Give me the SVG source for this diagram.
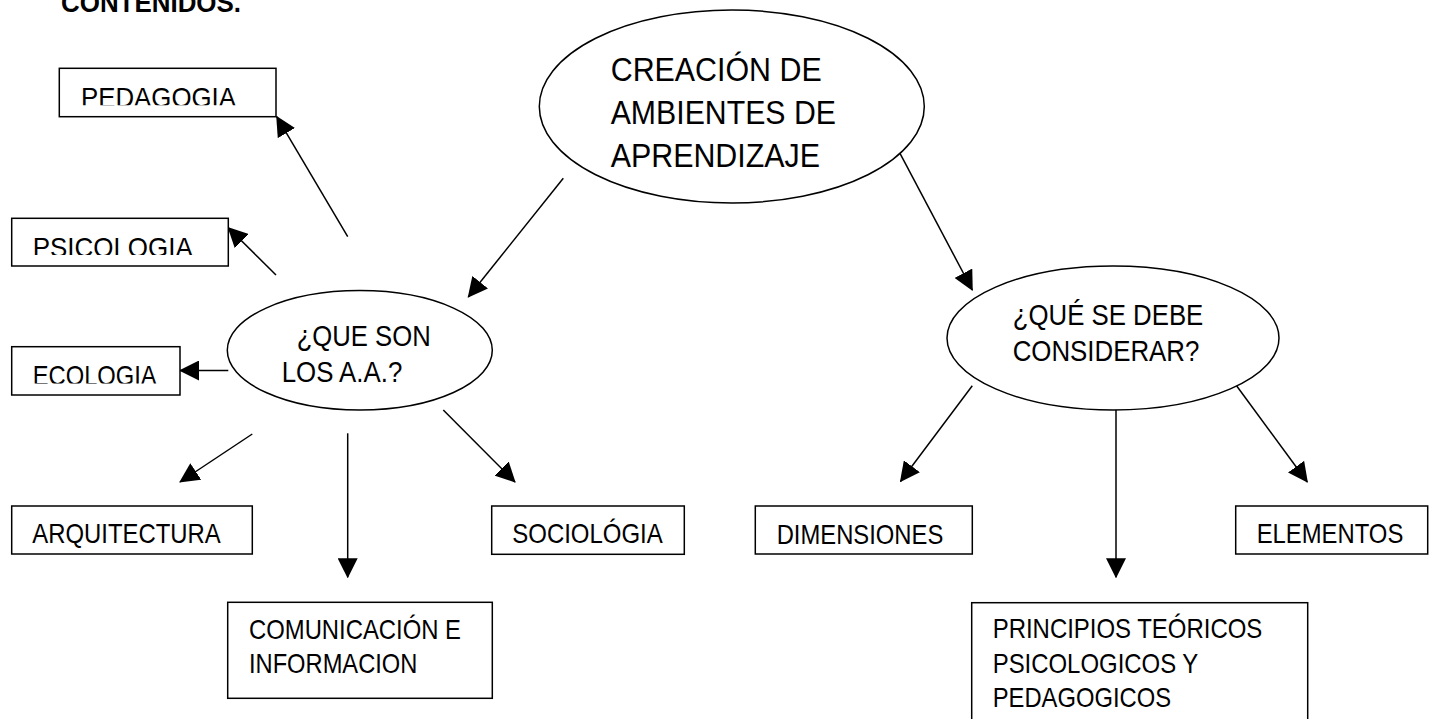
<svg xmlns="http://www.w3.org/2000/svg" width="1430" height="719" viewBox="0 0 1430 719">
<style>
.box{fill:#fff;stroke:#000;stroke-width:1.5}
.ell{fill:#fff;stroke:#000;stroke-width:1.5}
.con{stroke:#000;stroke-width:1.5;fill:none;marker-end:url(#ah)}
text{font-family:"Liberation Sans",Arial,sans-serif;fill:#000}
.t28{font-size:28px}
.t29{font-size:29px}
.t30{font-size:30px}
.t34{font-size:34px}
.title{font-size:28px;font-weight:bold}
</style>
<defs>
<marker id="ah" viewBox="0 0 20 20" refX="19" refY="10" markerWidth="20" markerHeight="20" markerUnits="userSpaceOnUse" orient="auto">
<path d="M0,0 L20,10 L0,20 z" fill="#000"/>
</marker>
<clipPath id="cPed"><rect x="0" y="60" width="300" height="45.3"/></clipPath>
<clipPath id="cPsi"><rect x="0" y="210" width="300" height="45"/></clipPath>
<clipPath id="cEco"><rect x="0" y="340" width="300" height="43.5"/></clipPath>
</defs>
<rect width="1430" height="719" fill="#fff"/>
<text class="title" x="61" y="12" textLength="180" lengthAdjust="spacingAndGlyphs">CONTENIDOS.</text>
<g id="connectors">
<line class="con" x1="563.3" y1="178.3" x2="468.3" y2="297"/>
<line class="con" x1="900" y1="153.3" x2="972.3" y2="290"/>
<line class="con" x1="347.7" y1="236.7" x2="276.7" y2="116.7"/>
<line class="con" x1="276" y1="275" x2="228.3" y2="227.7"/>
<line class="con" x1="228.3" y1="370.5" x2="180" y2="370.5"/>
<line class="con" x1="252.3" y1="434" x2="180" y2="482"/>
<line class="con" x1="347.7" y1="433.3" x2="347.7" y2="577.3"/>
<line class="con" x1="443.3" y1="410" x2="515" y2="482"/>
<line class="con" x1="972.3" y1="385.7" x2="900.5" y2="481.5"/>
<line class="con" x1="1116" y1="410" x2="1116" y2="577.3"/>
<line class="con" x1="1236" y1="385" x2="1307.3" y2="482"/>
</g>
<g id="creacion">
<ellipse class="ell" cx="731.8" cy="106.5" rx="192.5" ry="96.5"/>
<text class="t34" x="610.7" y="81" textLength="211" lengthAdjust="spacingAndGlyphs">CREACIÓN DE</text>
<text class="t34" x="610.7" y="124" textLength="225.3" lengthAdjust="spacingAndGlyphs">AMBIENTES DE</text>
<text class="t34" x="610.7" y="166.7" textLength="209.3" lengthAdjust="spacingAndGlyphs">APRENDIZAJE</text>
</g>
<g id="que-son">
<ellipse class="ell" cx="359.8" cy="350.3" rx="132.5" ry="59.7"/>
<text class="t29" x="296.7" y="346" textLength="134" lengthAdjust="spacingAndGlyphs">¿QUE SON</text>
<text class="t29" x="281.7" y="381.7" textLength="120.6" lengthAdjust="spacingAndGlyphs">LOS A.A.?</text>
</g>
<g id="que-considerar">
<ellipse class="ell" cx="1113" cy="338" rx="166" ry="72"/>
<text class="t30" x="1012.7" y="325" textLength="190.6" lengthAdjust="spacingAndGlyphs">¿QUÉ SE DEBE</text>
<text class="t30" x="1012.7" y="360.7" textLength="186.6" lengthAdjust="spacingAndGlyphs">CONSIDERAR?</text>
</g>
<g id="pedagogia">
<rect class="box" x="59.3" y="68.3" width="216.7" height="48.4"/>
<text class="t28" x="81" y="106.7" textLength="155" lengthAdjust="spacingAndGlyphs" clip-path="url(#cPed)">PEDAGOGIA</text>
</g>
<g id="psicologia">
<rect class="box" x="11.7" y="218.3" width="216.6" height="47.7"/>
<text class="t28" x="32.7" y="257.3" textLength="160" lengthAdjust="spacingAndGlyphs" clip-path="url(#cPsi)">PSICOLOGIA</text>
</g>
<g id="ecologia">
<rect class="box" x="11.7" y="346.7" width="168.3" height="48.3"/>
<text class="t28" x="32.7" y="385" textLength="124" lengthAdjust="spacingAndGlyphs" clip-path="url(#cEco)">ECOLOGIA</text>
</g>
<g id="arquitectura">
<rect class="box" x="11.7" y="506" width="240.6" height="48"/>
<text class="t28" x="32.3" y="543.3" textLength="188.4" lengthAdjust="spacingAndGlyphs">ARQUITECTURA</text>
</g>
<g id="comunicacion">
<rect class="box" x="227.7" y="602.3" width="264.6" height="96"/>
<text class="t28" x="249" y="639.3" textLength="212" lengthAdjust="spacingAndGlyphs">COMUNICACIÓN E</text>
<text class="t28" x="249" y="673.3" textLength="168.3" lengthAdjust="spacingAndGlyphs">INFORMACION</text>
</g>
<g id="sociologia">
<rect class="box" x="491.7" y="506" width="192.6" height="48.3"/>
<text class="t28" x="512.3" y="543.3" textLength="150.4" lengthAdjust="spacingAndGlyphs">SOCIOLÓGIA</text>
</g>
<g id="dimensiones">
<rect class="box" x="755.3" y="506" width="217" height="48"/>
<text class="t28" x="776.7" y="543.5" textLength="166.6" lengthAdjust="spacingAndGlyphs">DIMENSIONES</text>
</g>
<g id="elementos">
<rect class="box" x="1235.7" y="506" width="192" height="48"/>
<text class="t28" x="1256.7" y="543.3" textLength="146.6" lengthAdjust="spacingAndGlyphs">ELEMENTOS</text>
</g>
<g id="principios">
<rect class="box" x="971.7" y="602.7" width="336" height="130"/>
<text class="t28" x="992.7" y="638.3" textLength="269.6" lengthAdjust="spacingAndGlyphs">PRINCIPIOS TEÓRICOS</text>
<text class="t28" x="992.7" y="673.3" textLength="205.6" lengthAdjust="spacingAndGlyphs">PSICOLOGICOS Y</text>
<text class="t28" x="992.7" y="706.7" textLength="178.3" lengthAdjust="spacingAndGlyphs">PEDAGOGICOS</text>
</g>
</svg>
